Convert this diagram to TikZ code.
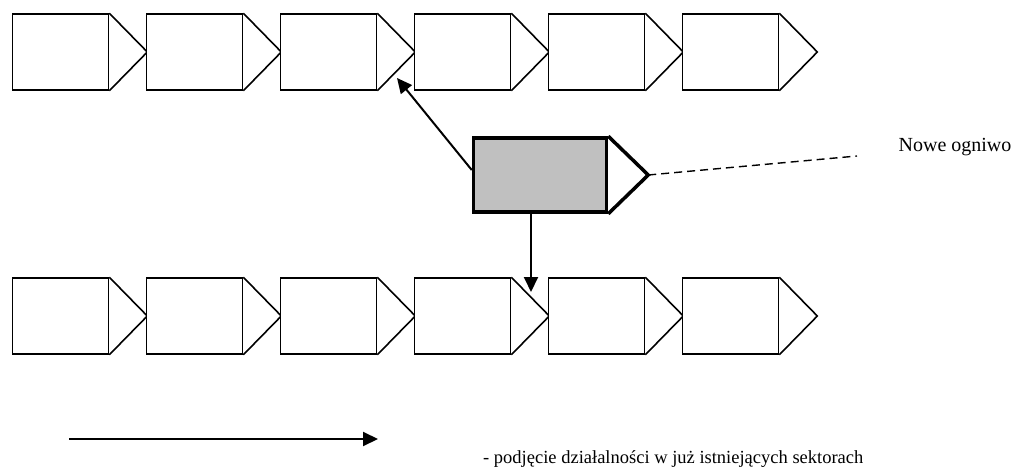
\documentclass[tikz,border=0pt]{standalone}
\usepackage{fontspec}
\setmainfont{Liberation Serif}
\usetikzlibrary{arrows.meta,calc}
\definecolor{linkgray}{RGB}{192,192,192}
\newcommand{\linktip}[3]{\draw[line width=#3,line join=miter] (#1.north east) -- ($(#1.east)+(#2,0)$) -- (#1.south east);}
\tikzset{
  link/.style={draw,line width=1.6pt,fill=#1,minimum width=96pt,minimum height=76pt,inner sep=0pt},
  link/.default={white},
  arr/.style={-{Triangle[length=15pt,width=14pt]},line width=2pt},
  lbl/.style={font=\fontsize{20}{24}\selectfont,inner sep=0pt},
}

\begin{document}
\begin{tikzpicture}[x=1pt,y=-1pt]
 \useasboundingbox (0,0) rectangle (1016,473);
 % two chains
 \foreach \i in {1,...,6}{
  \node[link] (t\i) at ({60.5+134*(\i-1)},52) {};
  \linktip{t\i}{38}{1.6pt}
  \node[link] (b\i) at ({60.5+134*(\i-1)},316) {};
  \linktip{b\i}{38}{1.6pt}
 }
 % new link
 \node[link=linkgray,line width=3.5pt,minimum width=133pt,minimum height=74pt] (g) at (540,175) {};
 \linktip{g}{40}{3.5pt}
 \coordinate (gtip) at ($(g.east)+(40,0)$);
 \coordinate (upend) at (397,78);
 \coordinate (downend) at (531,292);
 \coordinate (dashend) at (857,156);
 \draw[arr] ($(g.west)+(0,-5)$) -- (upend);
 \draw[arr] ($(g.south)+(-9,0)$) -- (downend);
 \draw[line width=1.4pt,dash pattern=on 8pt off 5pt] (gtip) -- (dashend);
 \node[lbl] (nowe) at (955,147) {Nowe ogniwo};
 % legend
 \coordinate (ls) at (69,439);
 \coordinate (le) at (378,439);
 \draw[arr] (ls) -- (le);
 \node[lbl,font=\fontsize{18.5}{22}\selectfont,anchor=west] (opis) at (483,459) {- podjęcie działalności w już istniejących sektorach};
\end{tikzpicture}
\end{document}
